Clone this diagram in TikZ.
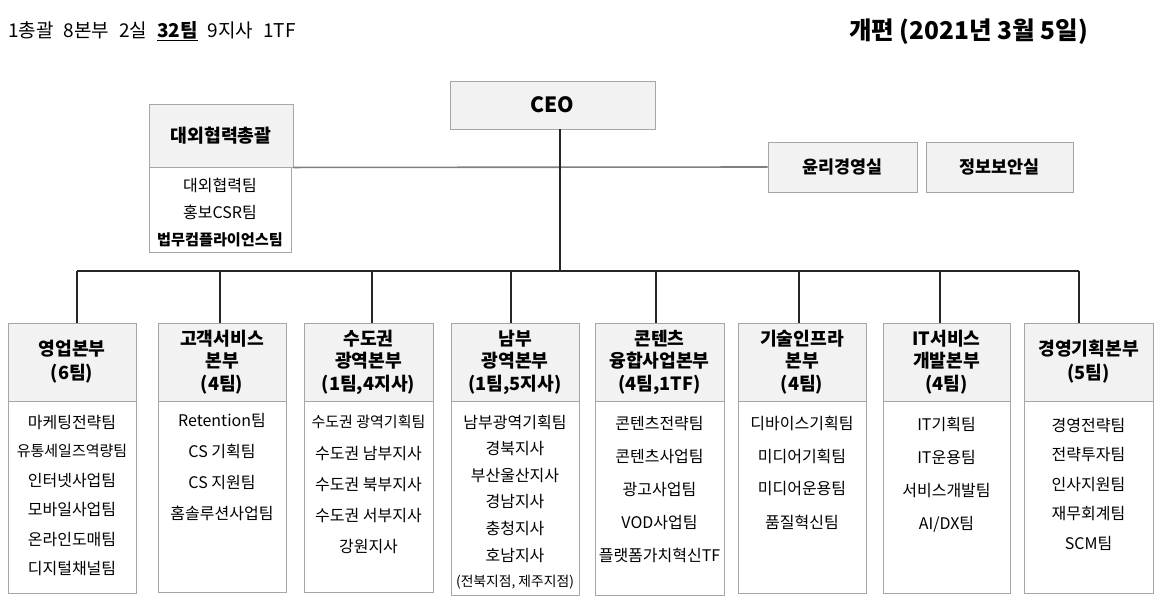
\documentclass[tikz,border=0pt]{standalone}
\usepackage{fontspec}
\setmainfont{Noto Sans CJK KR}
\definecolor{boxgray}{HTML}{A6A6A6}
\definecolor{hdrfill}{HTML}{F2F2F2}
\definecolor{linegray}{HTML}{7F7F7F}
\definecolor{busline}{HTML}{262626}
\begin{document}
\begin{tikzpicture}[x=1pt,y=-1pt,
  hdr/.style={draw=boxgray, fill=hdrfill, line width=0.9pt, inner sep=0pt, align=center, font=\bfseries\fontsize{18.2}{24}\selectfont},
  hdrthree/.style={hdr, font=\bfseries\fontsize{18.2}{22.5}\selectfont},
  topbox/.style={draw=boxgray, fill=hdrfill, line width=0.9pt, inner sep=0pt, font=\bfseries\fontsize{17.4}{20}\selectfont},
  bodybox/.style={draw=boxgray, fill=white, line width=0.9pt, inner sep=0pt},
  item/.style={inner sep=0pt, font=\fontsize{16}{18}\selectfont},
  itemnarrow/.style={inner sep=0pt, font=\fontsize{15}{18}\selectfont},
  bus/.style={draw=busline, line width=1.2pt},
  conn/.style={draw=linegray, line width=1.6pt}]
\useasboundingbox (0,0) rectangle (1161,603);

% titles
\node[anchor=west, inner sep=0pt, font=\fontsize{19}{22}\selectfont] (count) at (8,31)
  {1총괄\hspace{10pt}8본부\hspace{10pt}2실\hspace{10pt}\underline{\textbf{32팀}}\hspace{10pt}9지사\hspace{10pt}1TF};
\node[anchor=east, inner sep=0pt, font=\bfseries\fontsize{24.5}{28}\selectfont] (date) at (1088,32)
  {개편 (2021년 3월 5일)};

% CEO
\node[topbox, minimum width=205, minimum height=48, font=\bfseries\fontsize{21}{26}\selectfont] (ceo) at (552.5,105) {CEO};

% external affairs
\node[topbox, minimum width=144, minimum height=63, font=\bfseries\fontsize{18.3}{20}\selectfont] (exth) at (221,135.5) {대외협력총괄};
\node[bodybox, minimum width=142, minimum height=85] (extb) at (220,209.5) {};
\node[item] (ext1) at (220,185) {대외협력팀};
\node[item] (ext2) at (220,212) {홍보CSR팀};
\node[item, font=\bfseries\fontsize{15.2}{17}\selectfont] (ext3) at (220,240) {법무컴플라이언스팀};

% offices
\node[topbox, minimum width=149, minimum height=50] (ethics) at (842.5,167) {윤리경영실};
\node[topbox, minimum width=147, minimum height=50] (security) at (999.5,167) {정보보안실};
\draw[conn] (exth.south east) -- (ethics.west);

% divisions: headers
\node[hdr, minimum width=128, minimum height=78] (h1) at (72,362) {영업본부\\(6팀)};
\node[hdrthree, minimum width=128, minimum height=78] (h2) at (222,362) {고객서비스\\본부\\(4팀)};
\node[hdrthree, minimum width=129, minimum height=78] (h3) at (368.5,362) {수도권\\광역본부\\(1팀,4지사)};
\node[hdrthree, minimum width=128, minimum height=78] (h4) at (515,362) {남부\\광역본부\\(1팀,5지사)};
\node[hdrthree, minimum width=129, minimum height=78] (h5) at (659.5,362) {콘텐츠\\융합사업본부\\(4팀,1TF)};
\node[hdrthree, minimum width=128, minimum height=78] (h6) at (802,362) {기술인프라\\본부\\(4팀)};
\node[hdrthree, minimum width=127, minimum height=78] (h7) at (946.5,362) {IT서비스\\개발본부\\(4팀)};
\node[hdr, minimum width=129, minimum height=78] (h8) at (1088.5,362) {경영기획본부\\(5팀)};

% divisions: bodies
\node[bodybox, minimum width=128, minimum height=192, anchor=north] (b1) at (72,401) {};
\node[bodybox, minimum width=128, minimum height=191, anchor=north] (b2) at (222,401) {};
\node[bodybox, minimum width=129, minimum height=191, anchor=north] (b3) at (368.5,401) {};
\node[bodybox, minimum width=128, minimum height=194, anchor=north] (b4) at (515,401) {};
\node[bodybox, minimum width=129, minimum height=194, anchor=north] (b5) at (659.5,401) {};
\node[bodybox, minimum width=128, minimum height=192, anchor=north] (b6) at (802,401) {};
\node[bodybox, minimum width=127, minimum height=192, anchor=north] (b7) at (946.5,401) {};
\node[bodybox, minimum width=129, minimum height=192, anchor=north] (b8) at (1088.5,401) {};

% items
\node[item] (i1-1) at (72,422) {마케팅전략팀};
\node[itemnarrow] (i1-2) at (72,451.3) {유통세일즈역량팀};
\foreach \t [count=\i from 3] in {인터넷사업팀,모바일사업팀,온라인도매팀,디지털채널팀}
  \node[item] (i1-\i) at (72,{422+29.3*(\i-1)}) {\t};
\foreach \t [count=\i] in {Retention팀,CS 기획팀,CS 지원팀,홈솔루션사업팀}
  \node[item] (i2-\i) at (222,{420+31*(\i-1)}) {\t};
\node[itemnarrow] (i3-1) at (368.5,422) {수도권 광역기획팀};
\foreach \t [count=\i from 2] in {수도권 남부지사,수도권 북부지사,수도권 서부지사,강원지사}
  \node[item] (i3-\i) at (368.5,{422+31.2*(\i-1)}) {\t};
\foreach \t [count=\i] in {남부광역기획팀,경북지사,부산울산지사,경남지사,충청지사,호남지사}
  \node[item] (i4-\i) at (515,{422+26.6*(\i-1)}) {\t};
\node[item, font=\fontsize{13.8}{15}\selectfont] (i4-7) at (515,582) {(전북지점, 제주지점)};
\foreach \t [count=\i] in {콘텐츠전략팀,콘텐츠사업팀,광고사업팀,VOD사업팀,플랫폼가치혁신TF}
  \node[item] (i5-\i) at (659.5,{423+33*(\i-1)}) {\t};
\foreach \t [count=\i] in {디바이스기획팀,미디어기획팀,미디어운용팀,품질혁신팀}
  \node[item] (i6-\i) at (802,{423+33*(\i-1)}) {\t};
\foreach \t [count=\i] in {IT기획팀,IT운용팀,서비스개발팀,AI/DX팀}
  \node[item] (i7-\i) at (946.5,{424+33.5*(\i-1)}) {\t};
\foreach \t [count=\i] in {경영전략팀,전략투자팀,인사지원팀,재무회계팀,SCM팀}
  \node[item] (i8-\i) at (1088.5,{425+29.5*(\i-1)}) {\t};

% bus and connectors
\coordinate (j) at (560,271);
\coordinate (t1) at (77,271);
\coordinate (t2) at (220,271);
\coordinate (t3) at (372,271);
\coordinate (t4) at (511,271);
\coordinate (t5) at (656,271);
\coordinate (t6) at (799,271);
\coordinate (t7) at (940,271);
\coordinate (t8) at (1079,271);
\draw[bus] (ceo.south -| j) -- (j);
\draw[bus] (t1) -- (t8);
\foreach \k in {1,...,8}
  \draw[bus] (t\k) -- (t\k |- h\k.north);
\end{tikzpicture}
\end{document}
